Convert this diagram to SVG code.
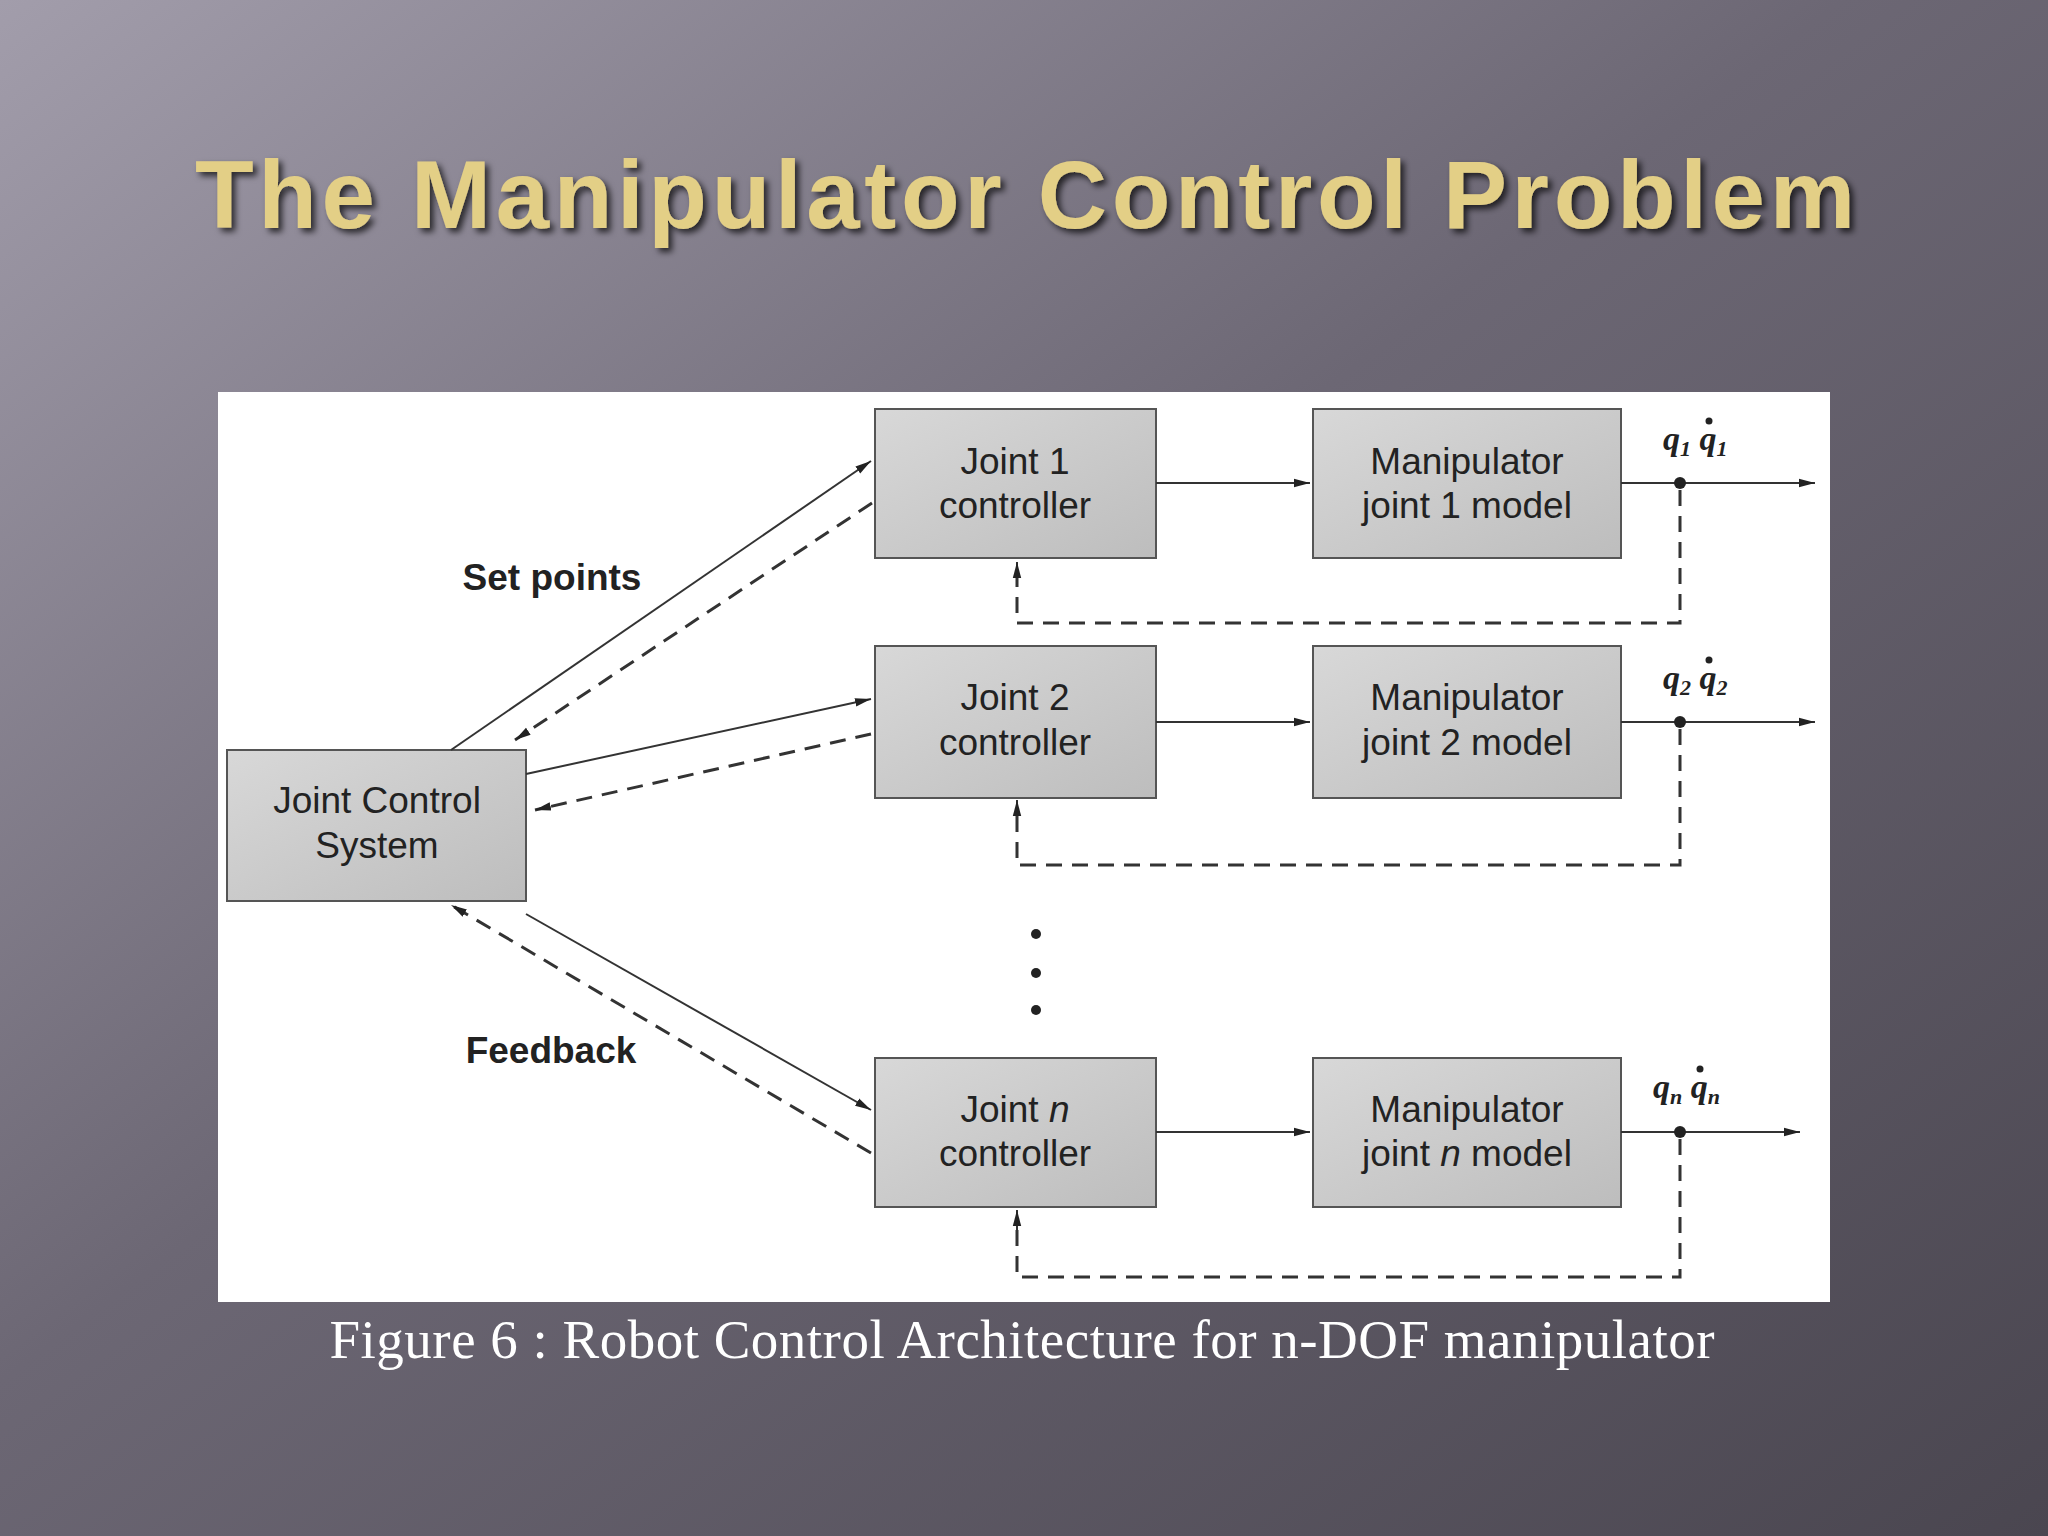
<svg xmlns="http://www.w3.org/2000/svg" width="2048" height="1536" viewBox="0 0 2048 1536">
<defs>
<linearGradient id="bg" x1="0" y1="0" x2="1" y2="1"><stop offset="0" stop-color="#a29dab"/><stop offset="0.45" stop-color="#6c6774"/><stop offset="1" stop-color="#4a4650"/></linearGradient>
<linearGradient id="bx" x1="0" y1="0" x2="1" y2="1"><stop offset="0" stop-color="#d8d8d8"/><stop offset="1" stop-color="#bdbdbd"/></linearGradient>
<marker id="ah" viewBox="0 0 10 10" refX="10" refY="5" markerWidth="16" markerHeight="12" orient="auto" markerUnits="userSpaceOnUse" preserveAspectRatio="none"><path d="M0,1.5 L10,5 L0,8.5 z" fill="#222"/></marker>
<filter id="sh"><feDropShadow dx="4" dy="4" stdDeviation="3" flood-color="#000" flood-opacity="0.7"/></filter>
</defs>
<style>
.box{fill:url(#bx);stroke:#555;stroke-width:2}
.t{font-family:"Liberation Sans",Arial,sans-serif;font-size:37px;fill:#222;text-anchor:middle}
.ln{stroke:#333;stroke-width:2;fill:none;marker-end:url(#ah)}
.ds{stroke:#333;stroke-width:3;fill:none;stroke-dasharray:16,10}
.q{font-family:"Liberation Serif",serif;font-style:italic;font-weight:bold;font-size:34px;fill:#222}
</style>
<rect width="2048" height="1536" fill="url(#bg)"/>
<text x="1025" y="228" font-family="Liberation Sans,Arial,sans-serif" font-weight="bold" font-size="96" fill="#e3cf86" text-anchor="middle" filter="url(#sh)" textLength="1660">The Manipulator Control Problem</text>
<rect x="218" y="392" width="1612" height="910" fill="#fff"/>
<g id="jcs"><rect class="box" x="227" y="750" width="299" height="151"/><text class="t" x="377" y="813">Joint Control</text><text class="t" x="377" y="858">System</text></g>
<g id="j1"><rect class="box" x="875" y="409" width="281" height="149"/><text class="t" x="1015" y="474">Joint 1</text><text class="t" x="1015" y="518">controller</text></g>
<g id="m1"><rect class="box" x="1313" y="409" width="308" height="149"/><text class="t" x="1467" y="474">Manipulator</text><text class="t" x="1467" y="518">joint 1 model</text></g>
<g id="j2"><rect class="box" x="875" y="646" width="281" height="152"/><text class="t" x="1015" y="710">Joint 2</text><text class="t" x="1015" y="755">controller</text></g>
<g id="m2"><rect class="box" x="1313" y="646" width="308" height="152"/><text class="t" x="1467" y="710">Manipulator</text><text class="t" x="1467" y="755">joint 2 model</text></g>
<g id="jn"><rect class="box" x="875" y="1058" width="281" height="149"/><text class="t" x="1015" y="1122">Joint <tspan font-style="italic">n</tspan></text><text class="t" x="1015" y="1166">controller</text></g>
<g id="mn"><rect class="box" x="1313" y="1058" width="308" height="149"/><text class="t" x="1467" y="1122">Manipulator</text><text class="t" x="1467" y="1166">joint <tspan font-style="italic">n</tspan> model</text></g>
<g id="connectors">
<path class="ln" d="M1156,483 L1310,483"/><path class="ln" d="M1156,722 L1310,722"/><path class="ln" d="M1156,1132 L1310,1132"/>
<path class="ln" d="M1621,483 L1815,483"/><path class="ln" d="M1621,722 L1815,722"/><path class="ln" d="M1621,1132 L1800,1132"/>
<circle cx="1680" cy="483" r="6" fill="#222"/><circle cx="1680" cy="722" r="6" fill="#222"/><circle cx="1680" cy="1132" r="6" fill="#222"/>
<path class="ds" d="M1680,490 L1680,623 L1017,623 L1017,575"/><path class="ln" d="M1017,580 L1017,562"/>
<path class="ds" d="M1680,729 L1680,865 L1017,865 L1017,815"/><path class="ln" d="M1017,820 L1017,800"/>
<path class="ds" d="M1680,1139 L1680,1277 L1017,1277 L1017,1225"/><path class="ln" d="M1017,1230 L1017,1210"/>
<path class="ln" d="M451,750 L871,461"/><path class="ds" d="M872,503 L515,740" marker-end="url(#ah)"/>
<path class="ln" d="M526,774 L871,699"/><path class="ds" d="M871,734 L535,810" marker-end="url(#ah)"/>
<path class="ln" d="M526,914 L871,1110"/><path class="ds" d="M871,1153 L451,905" marker-end="url(#ah)"/>
</g>
<text class="t" x="552" y="590" font-weight="bold" font-size="36">Set points</text>
<text class="t" x="551" y="1063" font-weight="bold" font-size="36">Feedback</text>
<circle cx="1036" cy="934" r="5" fill="#222"/><circle cx="1036" cy="973" r="5" fill="#222"/><circle cx="1036" cy="1010" r="5" fill="#222"/>
<text class="q" x="1663" y="450">q<tspan font-size="22" dy="6">1</tspan><tspan dy="-6"> q</tspan><tspan font-size="22" dy="6">1</tspan></text><circle cx="1709" cy="421" r="3.5" fill="#222"/>
<text class="q" x="1663" y="689">q<tspan font-size="22" dy="6">2</tspan><tspan dy="-6"> q</tspan><tspan font-size="22" dy="6">2</tspan></text><circle cx="1709" cy="660" r="3.5" fill="#222"/>
<text class="q" x="1653" y="1098">q<tspan font-size="22" dy="6">n</tspan><tspan dy="-6"> q</tspan><tspan font-size="22" dy="6">n</tspan></text><circle cx="1700" cy="1069" r="3.5" fill="#222"/>
<text x="1022" y="1358" font-family="Liberation Serif,serif" font-size="55" fill="#fff" text-anchor="middle" textLength="1385">Figure 6 : Robot Control Architecture for n-DOF manipulator</text>
</svg>
